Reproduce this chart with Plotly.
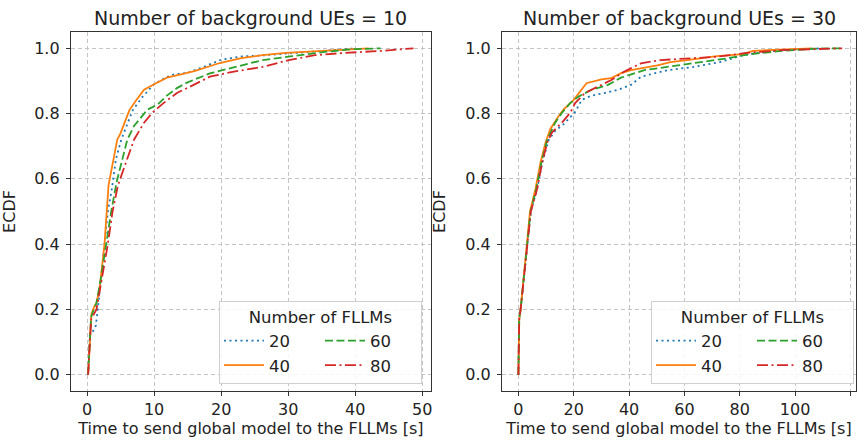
import plotly.graph_objects as go

# ---------------- data ----------------
series_names = ["20", "40", "60", "80"]

# Panel 1: number of background UEs = 10
l_x20 = [0.15, 0.4, 0.8, 1.3, 1.6, 2.1, 3.1, 3.7, 4.3, 5.1, 6.3, 6.8, 8.2, 10.0, 11.9, 13.0, 15.0, 17.0, 20.0, 23.0, 26.0, 30.0, 35.0, 40.0]
l_y20 = [0.0, 0.12, 0.13, 0.15, 0.2, 0.3, 0.5, 0.57, 0.66, 0.72, 0.78, 0.81, 0.85, 0.89, 0.912, 0.92, 0.925, 0.94, 0.965, 0.975, 0.978, 0.985, 0.992, 1.0]

l_x40 = [0.15, 0.65, 1.1, 1.4, 1.9, 2.6, 3.2, 4.5, 5.0, 6.3, 7.3, 8.5, 10.0, 11.9, 14.0, 16.0, 19.8, 23.0, 26.2, 29.6, 36.5, 42.0]
l_y40 = [0.0, 0.186, 0.21, 0.22, 0.27, 0.4, 0.58, 0.72, 0.74, 0.81, 0.84, 0.873, 0.89, 0.91, 0.92, 0.93, 0.955, 0.97, 0.979, 0.986, 0.994, 1.0]

l_x60 = [0.15, 0.6, 1.0, 1.4, 2.1, 2.8, 3.6, 4.4, 5.1, 6.0, 7.0, 9.0, 10.5, 11.9, 13.4, 14.9, 18.3, 21.7, 26.2, 30.6, 35.5, 39.4, 43.8]
l_y60 = [0.0, 0.176, 0.2, 0.22, 0.3, 0.4, 0.5, 0.59, 0.65, 0.72, 0.762, 0.812, 0.827, 0.855, 0.878, 0.895, 0.923, 0.941, 0.964, 0.976, 0.989, 0.997, 1.0]

l_x80 = [0.15, 0.6, 1.4, 2.4, 3.1, 3.8, 4.6, 5.8, 7.0, 8.5, 9.7, 11.4, 13.4, 15.9, 18.3, 21.7, 26.2, 30.1, 34.0, 38.4, 43.8, 48.7]
l_y80 = [0.0, 0.17, 0.2, 0.317, 0.4, 0.5, 0.58, 0.65, 0.72, 0.772, 0.802, 0.832, 0.863, 0.888, 0.913, 0.928, 0.943, 0.964, 0.979, 0.986, 0.992, 1.0]

# Panel 2: number of background UEs = 30
r_x20 = [0.0, 0.3, 0.8, 2.0, 3.2, 4.5, 6.8, 8.6, 11.0, 13.5, 15.7, 18.1, 20.5, 22.9, 26.4, 31.1, 36.0, 40.7, 44.3, 53.8, 63.3, 72.9, 81.2, 90.0, 100.0, 110.0]
r_y20 = [0.0, 0.17, 0.2, 0.3, 0.4, 0.5, 0.57, 0.65, 0.72, 0.75, 0.762, 0.782, 0.805, 0.842, 0.855, 0.863, 0.873, 0.888, 0.913, 0.933, 0.943, 0.958, 0.979, 0.99, 0.997, 1.0]

r_x40 = [0.0, 0.3, 0.8, 2.0, 3.0, 4.2, 6.2, 8.0, 9.8, 11.5, 14.5, 16.3, 20.0, 22.3, 24.6, 30.0, 33.6, 37.1, 40.7, 50.2, 55.0, 61.0, 71.7, 81.2, 84.8, 96.7, 106.0]
r_y40 = [0.0, 0.17, 0.2, 0.3, 0.4, 0.5, 0.57, 0.65, 0.711, 0.752, 0.792, 0.812, 0.842, 0.868, 0.893, 0.905, 0.909, 0.924, 0.933, 0.948, 0.958, 0.964, 0.976, 0.982, 0.992, 0.997, 1.0]

r_x60 = [0.0, 0.3, 0.8, 2.0, 3.2, 4.4, 6.5, 8.3, 10.4, 13.3, 15.7, 18.7, 21.7, 26.4, 32.4, 37.1, 45.5, 53.8, 63.3, 75.2, 83.6, 95.2, 107.4, 117.0]
r_y60 = [0.0, 0.17, 0.2, 0.3, 0.4, 0.5, 0.57, 0.65, 0.72, 0.772, 0.802, 0.832, 0.852, 0.873, 0.888, 0.91, 0.933, 0.943, 0.954, 0.969, 0.982, 0.992, 0.999, 1.0]

r_x80 = [0.0, 0.3, 0.8, 2.1, 3.3, 4.5, 6.8, 8.6, 10.4, 12.1, 15.7, 18.7, 20.5, 24.0, 28.8, 33.6, 38.3, 44.3, 51.4, 59.8, 71.7, 82.4, 96.7, 117.0]
r_y80 = [0.0, 0.17, 0.2, 0.3, 0.4, 0.5, 0.57, 0.65, 0.711, 0.742, 0.772, 0.802, 0.832, 0.863, 0.883, 0.903, 0.929, 0.954, 0.964, 0.969, 0.974, 0.986, 0.995, 1.0]

left_x_ticks = [0, 10, 20, 30, 40, 50]
right_x_ticks = [0, 20, 40, 60, 80, 100, 120]
y_ticks = [0.0, 0.2, 0.4, 0.6, 0.8, 1.0]

titles = ["Number of background UEs = 10", "Number of background UEs = 30"]
x_title = "Time to send global model to the FLLMs [s]"
y_title = "ECDF"
legend_title = "Number of FLLMs"

# ---------------- styles ----------------
colors = ["#1f77b4", "#ff7f0e", "#2ca02c", "#d62728"]
dashes = ["2px,3.5px", "solid", "8px,3.5px", "11px,3.5px,2px,3.5px"]
groups = ["a", "a", "b", "b"]
FONT = "DejaVu Sans"

fig = go.Figure()

left = [(l_x20, l_y20), (l_x40, l_y40), (l_x60, l_y60), (l_x80, l_y80)]
right = [(r_x20, r_y20), (r_x40, r_y40), (r_x60, r_y60), (r_x80, r_y80)]

for i, (xs, ys) in enumerate(left):
    fig.add_trace(go.Scatter(x=xs, y=ys, mode="lines", name=series_names[i],
                             line=dict(color=colors[i], width=1.8, dash=dashes[i]),
                             legendgroup=groups[i], legend="legend",
                             xaxis="x", yaxis="y"))
for i, (xs, ys) in enumerate(right):
    fig.add_trace(go.Scatter(x=xs, y=ys, mode="lines", name=series_names[i],
                             line=dict(color=colors[i], width=1.8, dash=dashes[i]),
                             legendgroup=groups[i], legend="legend2",
                             xaxis="x2", yaxis="y2"))

axis_common = dict(
    showline=True, mirror=True, linecolor="#333333", linewidth=1.3,
    ticks="outside", ticklen=4, tickcolor="#333333", tickwidth=1,
    showgrid=True, gridcolor="#c4c4c4", gridwidth=1, griddash="4px,3px",
    zeroline=False, tickfont=dict(family=FONT, size=16, color="#222222"),
    title_font=dict(family=FONT, size=16, color="#222222"),
)

W, H = 865, 443
ml, mr, mt, mb = 63, 8, 32, 50
pw = W - ml - mr
d1 = [0.0, 364 / pw]
d2 = [(499 - ml) / pw, 1.0]

legend_common = dict(
    orientation="h", traceorder="grouped", tracegroupgap=10,
    entrywidth=46, entrywidthmode="pixels",
    bgcolor="rgba(255,255,255,0.85)", bordercolor="#d0d0d0", borderwidth=1,
    font=dict(family=FONT, size=16.5, color="#222222"),
    title=dict(text=legend_title, side="top center", font=dict(family=FONT, size=16.5, color="#222222")),
    xanchor="right", yanchor="bottom", itemwidth=40,
)

fig.update_layout(
    width=W, height=H, margin=dict(l=ml, r=mr, t=mt, b=mb),
    paper_bgcolor="white", plot_bgcolor="white",
    font=dict(family=FONT, size=16, color="#222222"),
    xaxis=dict(domain=d1, range=[-2.4, 51.3], tickvals=left_x_ticks, title=dict(text=x_title, standoff=4), anchor="y", **axis_common),
    yaxis=dict(domain=[0, 1], range=[-0.05, 1.05], tickvals=y_ticks, tickformat=".1f", ticklabelstandoff=3, title=dict(text=y_title), anchor="x", **axis_common),
    xaxis2=dict(domain=d2, range=[-5.9, 122.0], tickvals=right_x_ticks, title=dict(text=x_title, standoff=4), anchor="y2", **axis_common),
    yaxis2=dict(domain=[0, 1], range=[-0.05, 1.05], tickvals=y_ticks, tickformat=".1f", ticklabelstandoff=3, title=dict(text=y_title), anchor="x2", **axis_common),
    legend=dict(x=(418 - ml) / pw, y=7 / 361, **legend_common),
    legend2=dict(x=(855 - ml) / pw, y=7 / 361, **legend_common),
    showlegend=True,
)

for t, dom in zip(titles, [d1, d2]):
    fig.add_annotation(text=t, x=(dom[0] + dom[1]) / 2, y=1.0, xref="paper", yref="paper",
                       xanchor="center", yanchor="bottom", yshift=1, showarrow=False,
                       font=dict(family=FONT, size=19, color="#222222"))

fig.write_html("out.html")
